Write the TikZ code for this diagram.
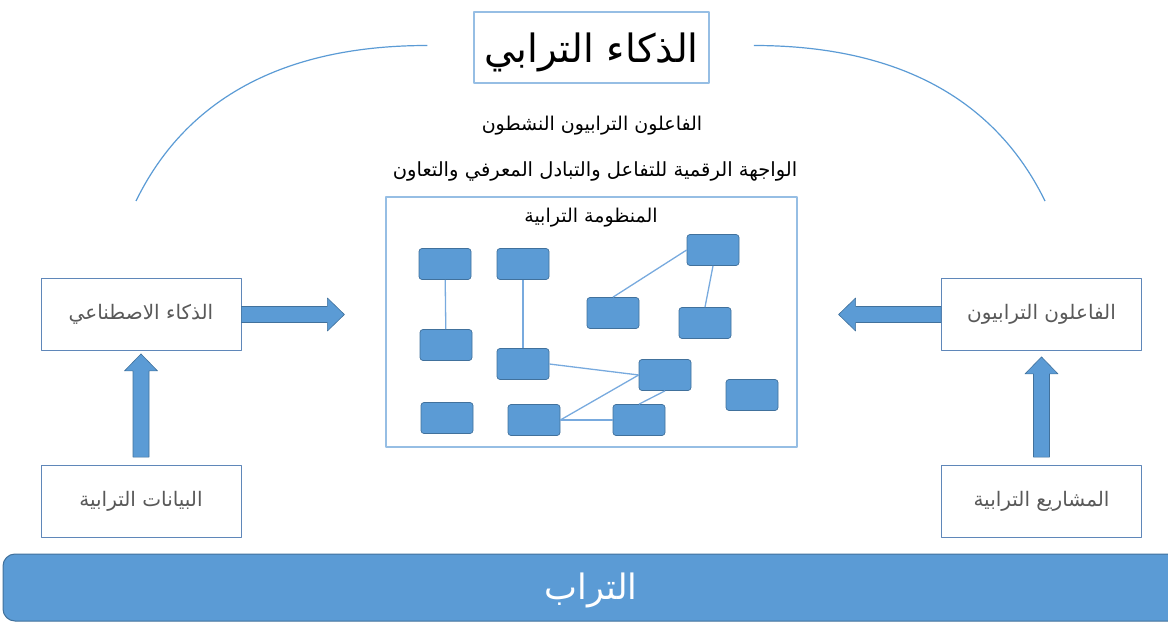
\documentclass[tikz,border=0pt]{standalone}
\usepackage{fontspec}
\usepackage{tikz}
\usetikzlibrary{calc,positioning}
\newfontfamily\arabicfont[Script=Arabic]{DejaVu Sans}
\TeXXeTstate=1
\definecolor{netblue}{RGB}{91,155,213}
\definecolor{netedge}{RGB}{65,113,156}
\definecolor{linkblue}{RGB}{120,170,222}
\definecolor{frameblue}{RGB}{150,190,228}
\definecolor{sideline}{RGB}{95,135,185}
\definecolor{softgray}{RGB}{89,89,89}
\newcommand{\artext}[1]{\arabicfont\beginR #1\endR}
% fat block arrow from #1 to tip #2
\newcommand{\fatarrow}[2]{%
  \path[fat] let \p1=(#1), \p2=(#2), \n1={atan2(\y2-\y1,\x2-\x1)}, \n2={veclen(\x2-\x1,\y2-\y1)} in
    [shift={(\p1)},rotate=\n1] (0pt,-8pt) -- (\n2-17pt,-8pt) -- (\n2-17pt,-16.5pt) -- (\n2,0pt)
    -- (\n2-17pt,16.5pt) -- (\n2-17pt,8pt) -- (0pt,8pt) -- cycle;}

\begin{document}
\begin{tikzpicture}[x=1pt,y=-1pt,line join=round,
    sidebox/.style={draw=sideline,line width=0.8pt,fill=white,minimum width=200pt,minimum height=72pt,text=softgray,font=\fontsize{20}{24}\selectfont},
    netbox/.style={draw=netedge,line width=0.7pt,fill=netblue,rounded corners=3pt,minimum width=52pt,minimum height=31pt},
    link/.style={draw=linkblue,line width=1.3pt},
    fat/.style={fill=netblue,draw=netedge,line width=0.6pt},
    arc/.style={draw=netblue,line width=1.2pt}]
  \useasboundingbox (0,0) rectangle (1168,623);
  % title and the two arcs
  \node[draw=frameblue,line width=1.5pt,minimum width=235pt,minimum height=71pt,font=\fontsize{39}{46}\selectfont] (ttl) at (591.5,47.5) {\raisebox{-5pt}[\height][\depth]{\artext{الذكاء الترابي}}};
  \coordinate (al) at (136,201); \coordinate (ar) at (1045,201);
  \coordinate (tl) at ($(ttl.west)+(-46,-2)$); \coordinate (tr) at ($(ttl.east)+(44,-2)$);
  \draw[arc] (al) .. controls +(64,-131) and +(-98,0) .. (tl);
  \draw[arc] (tr) .. controls +(98,0) and +(-64,-131) .. (ar);
  \node[font=\fontsize{19}{23}\selectfont] (act) at (592,126) {\artext{الفاعلون الترابيون النشطون}};
  \node[font=\fontsize{19.5}{23}\selectfont] (ifc) at (595,171) {\artext{الواجهة الرقمية للتفاعل والتبادل المعرفي والتعاون}};
  % the territorial system
  \node[draw=frameblue,line width=1.2pt,minimum width=411pt,minimum height=250pt] (sys) at (591.5,322) {};
  \node[font=\fontsize{19}{23}\selectfont] (systl) at (591,218) {\artext{المنظومة الترابية}};
  \foreach \n/\x/\y in {n1/445/264, n2/523/264, n3/713/250, n4/613/313, n5/705/323, n6/446/345,
      n7/523/364, n8/665/375, n9/752/395, n10/447/418, n11/534/420, n12/639/420}
    \node[netbox] (\n) at (\x,\y) {};
  \draw[link] (n1) -- (n6); \draw[link] (n2) -- (n7);
  \draw[link] (n3.west) -- (n4.north); \draw[link] (n3.south) -- (n5.north);
  \draw[link] (n7.east) -- (n8.west); \draw[link] (n8.west) -- (n11.east);
  \draw[link] (n11.east) -- (n12.west); \draw[link] (n8.south) -- (n12.north);
  % side boxes
  \node[sidebox] (ai) at (141,314.5) {\artext{الذكاء الاصطناعي}};
  \node[sidebox] (dat) at (141,501.5) {\artext{البيانات الترابية}};
  \node[sidebox] (actr) at (1041.5,314.5) {\artext{الفاعلون الترابيون}};
  \node[sidebox] (prj) at (1041.5,501.5) {\artext{المشاريع الترابية}};
  \fatarrow{$(dat.north)+(0,-8)$}{$(ai.south)+(0,3)$}
  \fatarrow{$(prj.north)+(0,-8)$}{$(actr.south)+(0,6)$}
  \fatarrow{ai.east}{$(ai.east -| sys.west)+(-41,0)$}
  \fatarrow{actr.west}{$(actr.west -| sys.east)+(41,0)$}
  % ground bar
  \begin{scope}
    \clip (0,0) rectangle (1168,623);
    \draw[fill=netblue,draw=netedge,line width=1pt,rounded corners=12pt] (3,554) rectangle (1200,621);
  \end{scope}
  \node[text=white,font=\fontsize{35}{42}\selectfont] (soil) at (591,590) {\artext{التراب}};
\end{tikzpicture}
\end{document}
